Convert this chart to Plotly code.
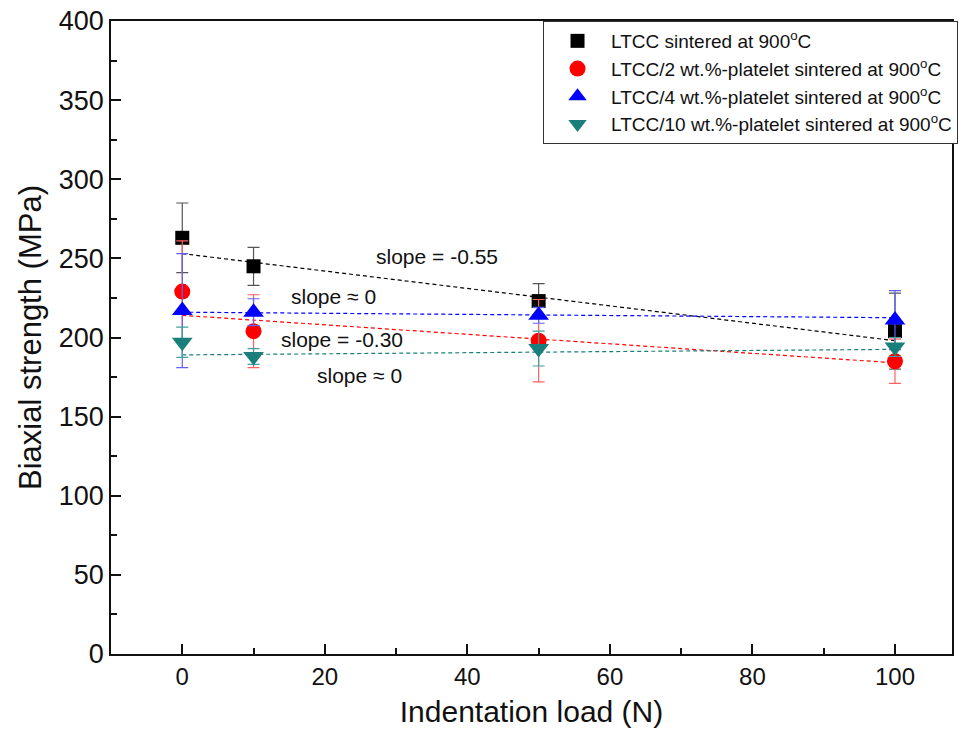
import plotly.graph_objects as go

# Indentation loads (N)
loads = [0, 10, 50, 100]

# Biaxial strength (MPa) and standard deviations per composition
ltcc = [263, 245, 223, 204]
ltcc_err = [22, 12, 11, 24]
plt2 = [229, 204, 198, 185]
plt2_err = [32, 23, 26, 14]
plt4 = [217, 216, 214, 211]
plt4_err = [36, 8.5, 5, 18.6]
plt10 = [197, 188, 193, 194]
plt10_err = [9.5, 5, 11, 6]

# Linear fits: intercepts (MPa) and slopes (MPa/N)
fit_intercepts = [253, 214, 216, 189]
fit_slopes = [-0.55, -0.30, -0.035, 0.035]
fit_range = [0, 100]

names = [
    "LTCC sintered at 900<sup>o</sup>C",
    "LTCC/2 wt.%-platelet sintered at 900<sup>o</sup>C",
    "LTCC/4 wt.%-platelet sintered at 900<sup>o</sup>C",
    "LTCC/10 wt.%-platelet sintered at 900<sup>o</sup>C",
]

# Slope annotations: text, x, y
slope_texts = ["slope = -0.55", "slope \u2248 0", "slope = -0.30", "slope \u2248 0"]
slope_x = [35.7, 21.2, 22.4, 24.9]
slope_y = [251, 225.8, 198.9, 175.7]

series = [ltcc, plt2, plt4, plt10]
errors = [ltcc_err, plt2_err, plt4_err, plt10_err]
colors = ["#000000", "#ff0000", "#0000ff", "#1a7f7a"]
err_colors = ["#555555", "#ff6060", "#6060ff", "#40a0a0"]
symbols = ["square", "circle", "triangle-up", "triangle-down"]
sizes = [14, 16, 18, 18]

FONT = "Liberation Sans, Arial, sans-serif"

fig = go.Figure()

# dashed regression lines
for b, m, c in zip(fit_intercepts, fit_slopes, colors):
    fig.add_trace(go.Scatter(
        x=fit_range,
        y=[b + m * fit_range[0], b + m * fit_range[1]],
        mode="lines",
        line=dict(color=c, width=1.2, dash="4px,3px"),
        showlegend=False,
        hoverinfo="skip",
    ))

# measured points with error bars
for y, e, c, ec, s, sz, n in zip(series, errors, colors, err_colors, symbols, sizes, names):
    fig.add_trace(go.Scatter(
        x=loads,
        y=y,
        mode="markers",
        name=n,
        marker=dict(symbol=s, size=sz, color=c, line=dict(width=0)),
        error_y=dict(type="data", array=e, visible=True, color=ec, thickness=1.2, width=6),
    ))

for t, x, y in zip(slope_texts, slope_x, slope_y):
    fig.add_annotation(
        x=x, y=y, xref="x", yref="y", text=t, showarrow=False,
        font=dict(family=FONT, size=21, color="#111111"),
    )

fig.update_layout(
    width=963,
    height=745,
    margin=dict(l=111, r=11, t=21, b=91, autoexpand=False),
    paper_bgcolor="white",
    plot_bgcolor="white",
    font=dict(family=FONT, size=24, color="#111111"),
    legend=dict(
        x=0.5137, y=1.0, xanchor="left", yanchor="top",
        bgcolor="white", bordercolor="#333333", borderwidth=1,
        font=dict(family=FONT, size=19, color="#111111"),
        tracegroupgap=0, itemsizing="trace", itemwidth=57,
    ),
    xaxis=dict(
        range=[-10, 108], automargin=False,
        tickmode="array", tickvals=[0, 20, 40, 60, 80, 100],
        ticks="inside", ticklen=10, tickwidth=1.5, tickcolor="#111111",
        minor=dict(ticks="inside", tickvals=[10, 30, 50, 70, 90], ticklen=6, tickwidth=1.5, tickcolor="#111111"),
        showline=True, linecolor="#111111", linewidth=1.5, mirror=True,
        showgrid=False, zeroline=False,
        title=dict(text="Indentation load (N)", font=dict(size=30), standoff=12),
        tickfont=dict(size=24),
    ),
    yaxis=dict(
        range=[0, 400], automargin=False,
        tickmode="array", tickvals=[0, 50, 100, 150, 200, 250, 300, 350, 400],
        ticks="inside", ticklen=10, tickwidth=1.5, tickcolor="#111111",
        minor=dict(ticks="inside", tickvals=[25, 75, 125, 175, 225, 275, 325, 375], ticklen=6, tickwidth=1.5, tickcolor="#111111"),
        showline=True, linecolor="#111111", linewidth=1.5, mirror=True,
        showgrid=False, zeroline=False,
        title=dict(text="Biaxial strength (MPa)", font=dict(size=31), standoff=8),
        tickfont=dict(size=27),
    ),
)

fig.write_html("out.html")
